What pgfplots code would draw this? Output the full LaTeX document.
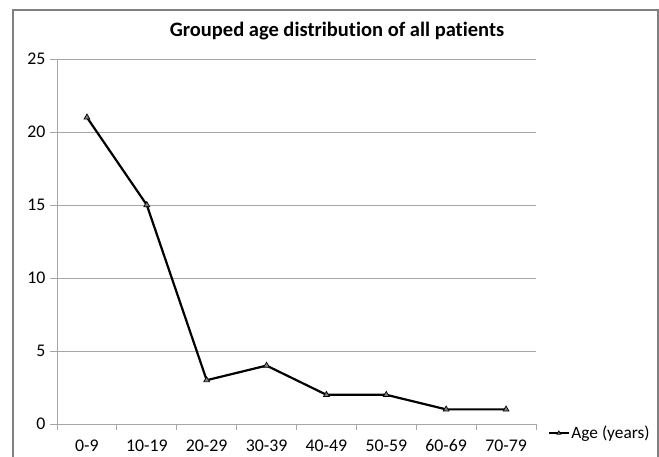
\documentclass[border=0pt]{standalone}
\usepackage{pgfplots}
\pgfplotsset{compat=1.18}
\usepackage{fontspec}
\setmainfont[Ligatures=NoCommon]{Carlito}
\definecolor{gridgray}{HTML}{A6A6A6}
\definecolor{bordergray}{HTML}{808080}
\definecolor{markgray}{HTML}{7F7F7F}
\begin{document}
\begin{tikzpicture}[x=1pt,y=1pt]
\useasboundingbox (0,0) rectangle (659,457);
\draw[bordergray, line width=1.4pt] (13,-5) -- (13,447) -- (658,447) -- (658,-5);
\node[font=\fontsize{20.5}{22}\selectfont\bfseries] at (337,426) {Grouped age distribution of all patients};
\begin{axis}[
  at={(57pt,33pt)}, anchor=south west,
  scale only axis, width=479pt, height=365pt,
  xmin=-0.5, xmax=7.5, ymin=0, ymax=25,
  axis lines=left, axis line style={-, gridgray, line width=0.9pt},
  xtick={0,...,7},
  xticklabels={0-9,10-19,20-29,30-39,40-49,50-59,60-69,70-79},
  major x tick style={draw=none},
  minor xtick={-0.5,0.5,...,7.5},
  minor x tick style={gridgray, line width=0.9pt},
  minor tick length=6pt,
  ytick={0,5,...,25},
  major y tick style={gridgray, line width=0.9pt},
  major tick length=7pt,
  tick align=outside,
  ymajorgrids, grid style={gridgray, line width=0.9pt},
  ticklabel style={font=\fontsize{17.8}{20}\selectfont, text=black},
  /pgf/number format/assume math mode=true,
  xticklabel style={yshift=-5pt},
  yticklabel style={xshift=-1pt},
  legend style={at={(axis description cs:1.025,-0.025)}, anchor=west, draw=none, fill=none,
    font=\fontsize{17.3}{20}\selectfont, inner sep=0pt, row sep=0pt,
    /tikz/every even column/.append style={column sep=0pt}},
  legend cell align=left,
  legend image code/.code={\draw[#1, line width=1.3pt, mark size=2.2pt, mark repeat=2, mark phase=2] plot coordinates {(0pt,0pt) (10pt,0pt) (20pt,0pt)};},
  clip=false,
]
\addplot[black, line width=2.2pt, mark=triangle*, mark size=3.4pt,
  mark options={fill=markgray, draw=black, line width=0.7pt}]
  coordinates {(0,21) (1,15) (2,3) (3,4) (4,2) (5,2) (6,1) (7,1)};
\addlegendentry{Age (years)}
\end{axis}
\end{tikzpicture}
\end{document}
